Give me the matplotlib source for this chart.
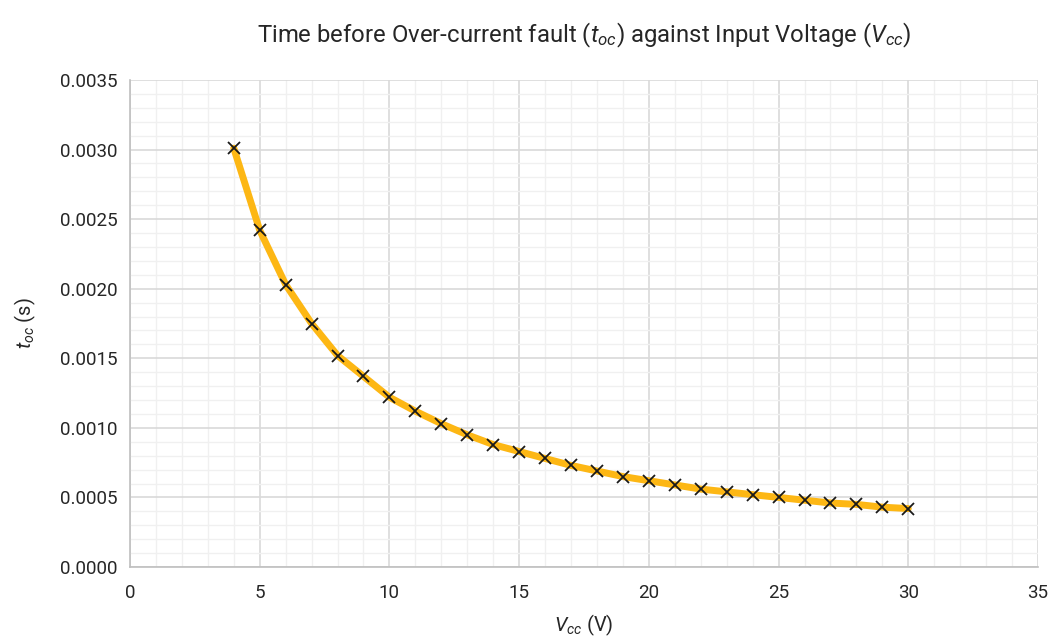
import matplotlib
matplotlib.use("Agg")
import matplotlib.pyplot as plt
from matplotlib.ticker import MultipleLocator, FormatStrFormatter

v_cc = [4, 5, 6, 7, 8, 9, 10, 11, 12, 13, 14, 15, 16, 17, 18, 19, 20,
        21, 22, 23, 24, 25, 26, 27, 28, 29, 30]
t_oc = [0.00301, 0.00242, 0.00203, 0.00175, 0.00152, 0.00137, 0.00122,
        0.00112, 0.00103, 0.00095, 0.00088, 0.00083, 0.00078, 0.00073,
        0.00069, 0.00065, 0.00062, 0.00059, 0.00056, 0.00054, 0.00052,
        0.00050, 0.00048, 0.00046, 0.00045, 0.00043, 0.00042]

title = r"Time before Over-current fault ($t_{oc}$) against Input Voltage ($V_{cc}$)"
xlabel = r"$V_{cc}$ (V)"
ylabel = r"$t_{oc}$ (s)"

TXT = '#262626'
plt.rcParams['font.family'] = ['Roboto', 'DejaVu Sans']
plt.rcParams['font.weight'] = 'normal'
plt.rcParams['mathtext.fontset'] = 'custom'
plt.rcParams['mathtext.rm'] = 'Roboto'
plt.rcParams['mathtext.it'] = 'Roboto:italic'

fig = plt.figure(figsize=(10.49, 6.44), dpi=100)
ax = fig.add_axes([130/1049, 1-567/644, (1038-130)/1049, (567-80)/644])

ax.plot(v_cc, t_oc, color='#FDB714', lw=5, solid_capstyle='round', zorder=3)
ax.plot(v_cc, t_oc, linestyle='none', marker='x', ms=9, mew=1.3,
        color='#1a1a1a', zorder=4)

ax.set_xlim(0, 35)
ax.set_ylim(0, 0.0035)
ax.xaxis.set_major_locator(MultipleLocator(5))
ax.xaxis.set_minor_locator(MultipleLocator(1))
ax.yaxis.set_major_locator(MultipleLocator(0.0005))
ax.yaxis.set_minor_locator(MultipleLocator(0.0001))
ax.yaxis.set_major_formatter(FormatStrFormatter('%.4f'))

ax.grid(which='major', color='#d9d9d9', lw=1.2, zorder=1)
ax.grid(which='minor', color='#f0f0f0', lw=1.0, zorder=0)
ax.set_axisbelow(True)

for s in ['top', 'right']:
    ax.spines[s].set_visible(False)
for s in ['left', 'bottom']:
    ax.spines[s].set_color('#bfbfbf')
    ax.spines[s].set_linewidth(1.2)

ax.tick_params(which='both', length=0, labelsize=13.5, colors=TXT)
ax.tick_params(axis='x', pad=12)
ax.tick_params(axis='y', pad=9)

ax.set_title(title, fontsize=17.2, color=TXT, pad=27)
ax.set_xlabel(xlabel, fontsize=14.5, color=TXT, labelpad=8)
ax.set_ylabel(ylabel, fontsize=14.5, color=TXT, labelpad=16)

fig.savefig('out.png', dpi=100)
